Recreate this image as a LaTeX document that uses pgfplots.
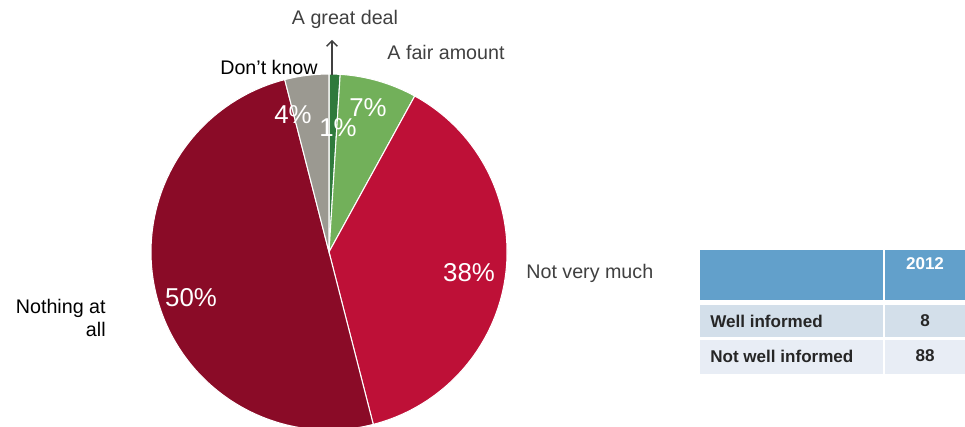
\documentclass[border=0pt]{standalone}
\usepackage{pgfplots}
\pgfplotsset{compat=1.18}
\usetikzlibrary{arrows.meta}
\usepackage{fontspec}
\setmainfont{Liberation Sans}
\definecolor{cgd}{HTML}{2F7A3C}
\definecolor{cfa}{HTML}{72B05A}
\definecolor{cnv}{HTML}{BE1037}
\definecolor{cna}{HTML}{8A0B27}
\definecolor{cdk}{HTML}{9B9991}
\definecolor{thead}{HTML}{62A0CB}
\definecolor{trow1}{HTML}{D3DFEA}
\definecolor{trow2}{HTML}{E8EDF5}
\definecolor{ltext}{HTML}{404040}
\begin{document}
\begin{tikzpicture}
\begin{axis}[at={(0,0)},anchor=south west,width=19.3cm,height=8.54cm,scale only axis,
  xmin=0,xmax=965,ymin=0,ymax=427,hide axis,clip=true]
% pie: center (329,175) in axis units, radius 178 px = 3.56cm
% values (percent): A great deal 1, A fair amount 7, Not very much 38, Nothing at all 50, Don't know 4
\def\R{3.56cm}
\fill[cgd,draw=white,line width=0.6pt] (axis cs:329,175) -- ([shift={(90:\R)}]axis cs:329,175) arc[start angle=90,end angle={90-3.6*1},radius=\R] -- cycle;
\fill[cfa,draw=white,line width=0.6pt] (axis cs:329,175) -- ([shift={({90-3.6*1}:\R)}]axis cs:329,175) arc[start angle={90-3.6*1},end angle={90-3.6*8},radius=\R] -- cycle;
\fill[cnv,draw=white,line width=0.6pt] (axis cs:329,175) -- ([shift={({90-3.6*8}:\R)}]axis cs:329,175) arc[start angle={90-3.6*8},end angle={90-3.6*46},radius=\R] -- cycle;
\fill[cna,draw=white,line width=0.6pt] (axis cs:329,175) -- ([shift={({90-3.6*46}:\R)}]axis cs:329,175) arc[start angle={90-3.6*46},end angle={90-3.6*96},radius=\R] -- cycle;
\fill[cdk,draw=white,line width=0.6pt] (axis cs:329,175) -- ([shift={({90-3.6*96}:\R)}]axis cs:329,175) arc[start angle={90-3.6*96},end angle={90-3.6*100},radius=\R] -- cycle;
% percent labels
\node[white,font=\fontsize{14.7pt}{16pt}\selectfont] at (axis cs:338,299) {1\%};
\node[white,font=\fontsize{14.7pt}{16pt}\selectfont] at (axis cs:368,319) {7\%};
\node[white,font=\fontsize{14.7pt}{16pt}\selectfont] at (axis cs:469,154) {38\%};
\node[white,font=\fontsize{14.7pt}{16pt}\selectfont] at (axis cs:191,129) {50\%};
\node[white,font=\fontsize{14.7pt}{16pt}\selectfont] at (axis cs:293,312) {4\%};
% category labels
\draw[ltext,line width=0.8pt,-{Straight Barb[length=3pt,width=6pt]}] (axis cs:332,352) -- (axis cs:332,387);
\node[ltext,font=\fontsize{11.2pt}{13pt}\selectfont] at (axis cs:345,408) {A great deal};
\node[ltext,font=\fontsize{11.2pt}{13pt}\selectfont] at (axis cs:446,375) {A fair amount};
\node[black,font=\fontsize{11.2pt}{13pt}\selectfont,anchor=east,inner sep=0pt] at (axis cs:318,360) {Don’t know};
\node[ltext,font=\fontsize{11.2pt}{13pt}\selectfont,anchor=west,inner sep=0pt] at (axis cs:526,154) {Not very much};
\node[black,font=\fontsize{11.2pt}{13.2pt}\selectfont,anchor=east,inner sep=0pt,align=right] at (axis cs:106,109) {Nothing at\\all};
% table
\fill[thead] (axis cs:700,177) rectangle (axis cs:883,127);
\fill[thead] (axis cs:885,177) rectangle (axis cs:965,127);
\fill[trow1] (axis cs:700,122) rectangle (axis cs:883,90);
\fill[trow1] (axis cs:885,122) rectangle (axis cs:965,90);
\fill[trow2] (axis cs:700,87) rectangle (axis cs:883,53);
\fill[trow2] (axis cs:885,87) rectangle (axis cs:965,53);
\node[white,font=\bfseries\fontsize{9.7pt}{11pt}\selectfont] at (axis cs:925,163) {2012};
\node[black!85,font=\bfseries\fontsize{9.7pt}{11pt}\selectfont,anchor=west,inner sep=0pt] at (axis cs:710,106) {Well informed};
\node[black!85,font=\bfseries\fontsize{9.7pt}{11pt}\selectfont] at (axis cs:925,106) {8};
\node[black!85,font=\bfseries\fontsize{9.7pt}{11pt}\selectfont,anchor=west,inner sep=0pt] at (axis cs:710,71) {Not well informed};
\node[black!85,font=\bfseries\fontsize{9.7pt}{11pt}\selectfont] at (axis cs:925,71) {88};
\end{axis}
\pgfresetboundingbox
\path (0,0) rectangle (19.3cm,8.54cm);
\end{tikzpicture}
\end{document}
